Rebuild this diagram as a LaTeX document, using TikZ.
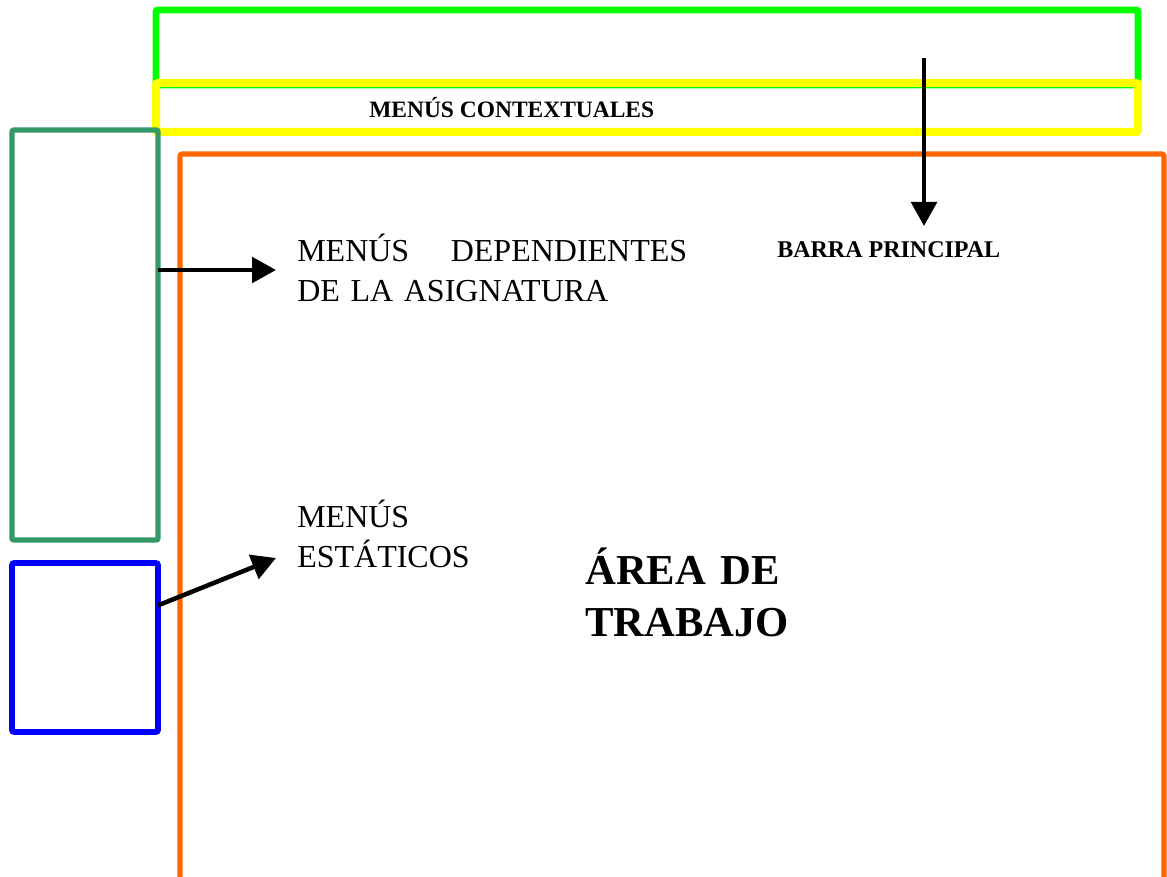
\documentclass[tikz,border=0pt]{standalone}
\usepackage{fontspec}
\setmainfont{Liberation Serif}
\usetikzlibrary{arrows.meta}
\usetikzlibrary{fit}
\definecolor{verdebarra}{HTML}{00FF00}
\definecolor{amarillo}{HTML}{FFFF00}
\definecolor{verdemenu}{HTML}{339966}
\definecolor{azulmenu}{HTML}{0000FF}
\definecolor{naranja}{HTML}{FF6600}
\tikzset{x=0.75pt, y=-0.75pt, % one unit is one pixel of the screen
    marco/.style=
    { % frame of a region of the screen
        draw,
        rounded corners=1.5pt,
        inner sep=0pt,
        outer sep=0pt
    },
    flecha/.style={ % black arrows pointing at the labels
        draw,
        -{Triangle[length=18pt,width=19pt]},
        line width=3.4pt
    },
    etiqueta/.style={inner sep=0pt, anchor=base west}, % labels, placed by their baseline
    texto/.style={font=\fontsize{24}{30}\selectfont}
}
\begin{document}
\begin{tikzpicture}
\useasboundingbox (0,0) rectangle (1167,877);

\node [marco,draw=verdebarra,line width=5.2pt,fit={(156,10) (1138,85)}] (barra) {};
\node [marco,draw=amarillo,line width=6pt,fit={(156,83) (1138,132)}] (contexto) {};
\node [marco,draw=verdemenu,line width=4pt,fit={(12,130) (158,540)}] (dinamicos) {};
\node [marco,draw=azulmenu,line width=4.2pt,fit={(12,563) (158,732)}] (estaticos) {};
\node [marco,draw=naranja,line width=3.8pt,fit={(180,154) (1164,900)}] (trabajo) {};

\node [etiqueta,font=\bfseries\fontsize{17.6}{20}\selectfont] (txtcontexto) at (369,118) {MENÚS CONTEXTUALES};
\node [etiqueta,font=\bfseries\fontsize{18}{20}\selectfont] (txtbarra) at (777,258) {BARRA PRINCIPAL};
\node [etiqueta,texto,text width=292.5pt,align=left] (txtdinamicos) at (297,262)
    {MENÚS \hfill DEPENDIENTES\\DE LA ASIGNATURA};
\node [etiqueta,texto,text width=150pt,align=left] (txtestaticos) at (297,527)
    {MENÚS\\ESTÁTICOS};
\node [etiqueta,text width=180pt,align=left,font=\bfseries\fontsize{32}{39}\selectfont] (txttrabajo) at (585,584)
    {ÁREA DE\\TRABAJO};

\coordinate (barra ini) at (924,58);
\coordinate (barra fin) at (924,226);
\coordinate (dinamicos fin) at (276,270);
\coordinate (estaticos fin) at (276,558);

\draw [flecha] (barra ini) -- (barra fin);
\draw [flecha] (dinamicos.east |- dinamicos fin) -- (dinamicos fin);
\draw [flecha] (estaticos.30) -- (estaticos fin);
\end{tikzpicture}
\end{document}
